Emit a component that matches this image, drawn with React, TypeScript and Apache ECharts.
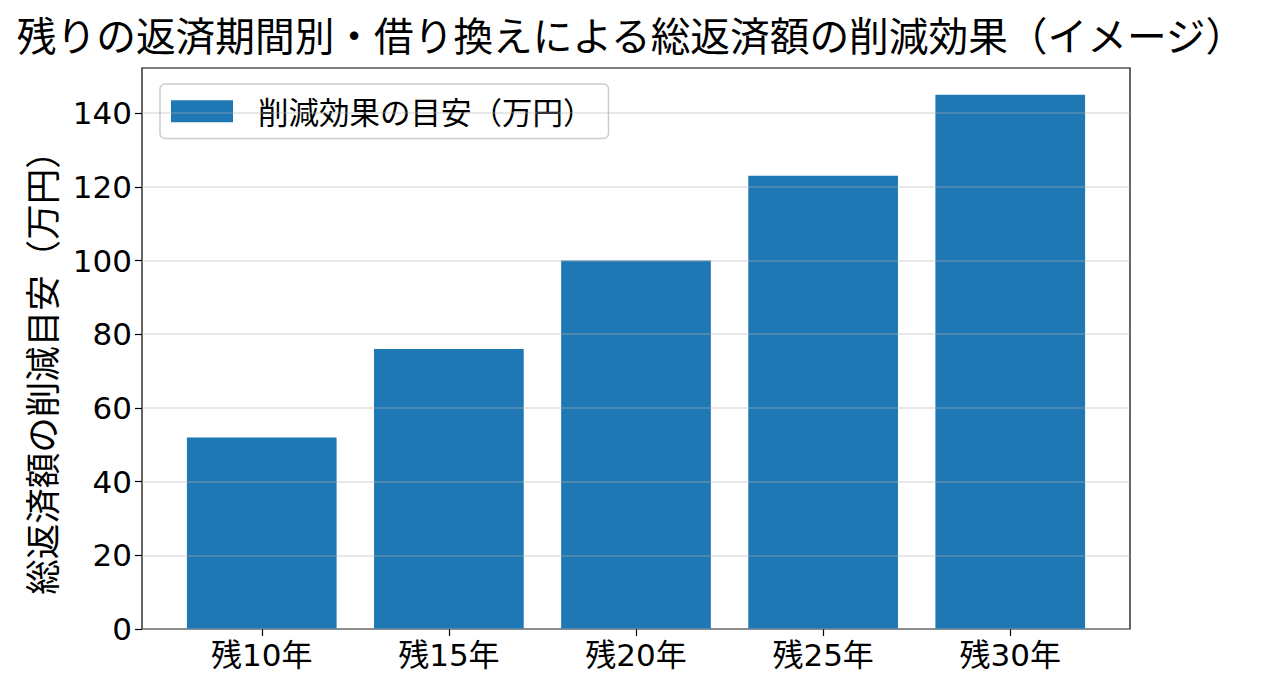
import React, { useEffect, useRef } from "react";
import * as echarts from "echarts";

const categories = ["残10年", "残15年", "残20年", "残25年", "残30年"];
const savings = [52, 76, 100, 123, 145];
const yTicks = [0, 20, 40, 60, 80, 100, 120, 140];
const seriesName = "削減効果の目安（万円）";
const titleText = "残りの返済期間別・借り換えによる総返済額の削減効果（イメージ）";
const yLabel = "総返済額の削減目安（万円）";

const FONT = '"Noto Sans CJK JP", "Noto Sans", sans-serif';
const TICK_FONT = '"DejaVu Sans", "Noto Sans CJK JP", sans-serif';

export default function App() {
  const ref = useRef<HTMLDivElement>(null);
  useEffect(() => {
    if (!ref.current) return;
    const chart = echarts.init(ref.current, null, { renderer: "svg" });
    const yMax = 145 * 1.05;
    const left = 142, top = 68, width = 988, height = 561;
    const unit = width / 5.28;
    const innerLeft = left + 0.64 * unit - unit / 2;
    chart.setOption({
      animation: false,
      backgroundColor: "#ffffff",
      textStyle: { fontFamily: FONT },
      grid: [
        { left, top, width, height, show: true, borderColor: "#000", borderWidth: 1.2, backgroundColor: "transparent" },
        { left: innerLeft, top, width: unit * 5, height },
      ],
      xAxis: [
        { gridIndex: 0, type: "value", min: 0, max: 1, show: false },
        {
          gridIndex: 1,
          type: "category",
          data: categories,
          axisLine: { show: false },
          axisTick: { show: true, alignWithLabel: true, length: 7, lineStyle: { color: "#000", width: 1.2 } },
          axisLabel: { color: "#000", fontSize: 31, fontFamily: TICK_FONT, margin: 10 },
        },
      ],
      yAxis: [
        {
          gridIndex: 0,
          type: "value",
          min: 0,
          max: yMax,
          interval: 20,
          z: 5,
          axisLine: { show: false },
          axisTick: { show: true, length: 7, customValues: yTicks, lineStyle: { color: "#000", width: 1.2 } },
          axisLabel: { color: "#000", fontSize: 31, fontFamily: TICK_FONT, margin: 10, customValues: yTicks },
          splitLine: { show: true, lineStyle: { color: "rgba(176,176,176,0.3)", width: 2 } },
        },
        { gridIndex: 1, type: "value", min: 0, max: yMax, show: false },
      ],
      legend: {
        data: [seriesName],
        left: 160,
        top: 84,
        orient: "vertical",
        itemWidth: 62,
        itemHeight: 22,
        padding: [12, 15, 12, 11],
        borderColor: "#cccccc",
        borderWidth: 1.5,
        borderRadius: 5,
        backgroundColor: "rgba(255,255,255,0.8)",
        icon: "rect",
        textStyle: { fontSize: 30.5, color: "#000", fontFamily: FONT, padding: [0, 0, 0, 20] },
      },
      series: [
        {
          type: "bar",
          name: seriesName,
          xAxisIndex: 1,
          yAxisIndex: 1,
          data: savings,
          barWidth: "80%",
          itemStyle: { color: "#1f77b4" },
          z: 2,
        },
      ],
      graphic: [
        {
          type: "text",
          x: 631,
          y: 33,
          style: { text: titleText, fontSize: 39.7, fontFamily: FONT, fill: "#000", textAlign: "center", textVerticalAlign: "middle" },
        },
        {
          type: "text",
          x: 40,
          y: 364,
          rotation: Math.PI / 2,
          style: { text: yLabel, fontSize: 35.5, fontFamily: FONT, fill: "#000", textAlign: "center", textVerticalAlign: "middle" },
        },
      ],
    });
    return () => chart.dispose();
  }, []);
  return <div ref={ref} style={{ position: "fixed", left: 0, top: 0, width: 1272, height: 691 }} />;
}
